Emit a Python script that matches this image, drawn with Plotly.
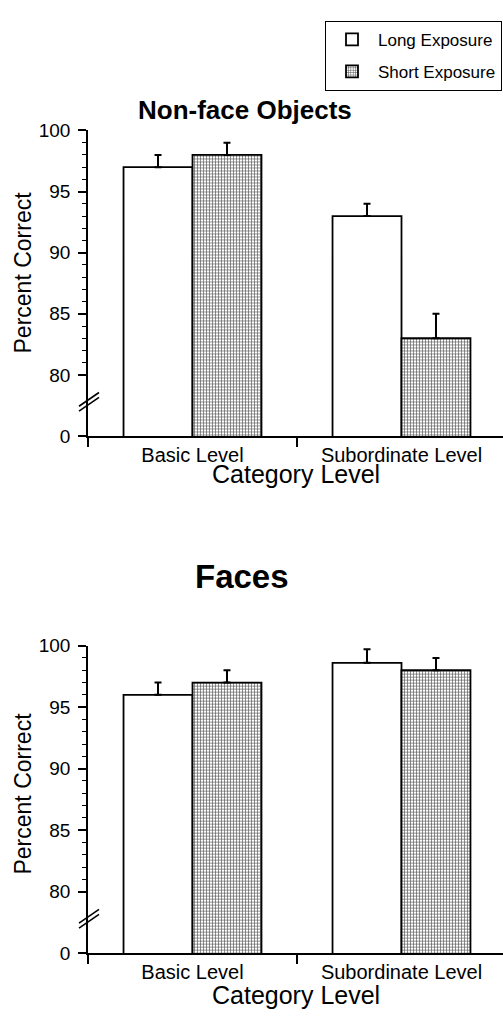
import plotly.graph_objects as go

# ---- data ----
categories = ["Basic Level", "Subordinate Level"]
series_names = ["Long Exposure", "Short Exposure"]

nonface_long = [97, 93]
nonface_long_err = [1, 1]
nonface_short = [98, 83]
nonface_short_err = [1, 2]

faces_long = [96, 98.6]
faces_long_err = [1, 1.1]
faces_short = [97, 98]
faces_short_err = [1, 1]

# broken axis: display position of "0" sits just below 80
y_tickvals = [75, 80, 85, 90, 95, 100]
y_ticktext = ["0", "80", "85", "90", "95", "100"]
y_minor = [v for v in range(80, 101) if v % 5 != 0]

W, H = 503, 1020
FONT = "Liberation Sans, Arial, sans-serif"

def px_y(p):  # figure pixel (from top) -> paper fraction
    return 1 - p / H

def px_x(p):
    return p / W

x_dom = [px_x(88), 1.0]
top_dom = [px_y(435), px_y(123)]
bot_dom = [px_y(963), px_y(649)]

pattern_short = dict(shape="+", size=3, solidity=0.4, fgcolor="#5a5a5a",
                     bgcolor="white", fillmode="replace")

fig = go.Figure()

def add_panel(long_v, long_e, short_v, short_e, xa, ya, show):
    fig.add_trace(go.Bar(
        x=categories, y=long_v, name=series_names[0], xaxis=xa, yaxis=ya,
        showlegend=show, legendgroup="long",
        marker=dict(color="white", line=dict(color="black", width=1.8)),
        error_y=dict(type="data", array=long_e, arrayminus=[0] * len(long_e),
                     symmetric=False, color="black", thickness=2, width=3.5),
    ))
    fig.add_trace(go.Bar(
        x=categories, y=short_v, name=series_names[1], xaxis=xa, yaxis=ya,
        showlegend=show, legendgroup="short",
        marker=dict(color="white", pattern=pattern_short,
                    line=dict(color="black", width=1.8)),
        error_y=dict(type="data", array=short_e, arrayminus=[0] * len(short_e),
                     symmetric=False, color="black", thickness=2, width=3.5),
    ))

add_panel(nonface_long, nonface_long_err, nonface_short, nonface_short_err, "x", "y", True)
add_panel(faces_long, faces_long_err, faces_short, faces_short_err, "x2", "y2", False)

xrange = [-0.5, -0.5 + (W - 88) / 209.0]

common_x = dict(
    domain=x_dom, range=xrange, type="category", showline=True, linecolor="black",
    linewidth=1.6, ticks="outside", tickson="boundaries", ticklen=9, tickwidth=1.6,
    tickcolor="black", tickfont=dict(family=FONT, size=20, color="black"),
    showgrid=False, zeroline=False, fixedrange=True,
)
common_y = dict(
    range=[75, 100], tickmode="array", tickvals=y_tickvals, ticktext=y_ticktext,
    showline=True, linecolor="black", linewidth=1.6, ticks="outside", ticklen=8,
    tickwidth=1.6, tickcolor="black", ticklabelstandoff=4,
    tickfont=dict(family=FONT, size=19, color="black"),
    minor=dict(tickmode="array", tickvals=y_minor, ticks="outside", ticklen=4,
               tickwidth=1.3, tickcolor="black", showgrid=False),
    showgrid=False, zeroline=False, fixedrange=True,
)

fig.update_layout(
    width=W, height=H,
    margin=dict(l=0, r=0, t=0, b=0),
    paper_bgcolor="white", plot_bgcolor="white",
    barmode="group", bargap=0.34, bargroupgap=0,
    font=dict(family=FONT, color="black"),
    xaxis=dict(common_x, anchor="y"),
    yaxis=dict(common_y, domain=top_dom, anchor="x"),
    xaxis2=dict(common_x, anchor="y2"),
    yaxis2=dict(common_y, domain=bot_dom, anchor="x2"),
    legend=dict(x=px_x(502), xanchor="right", y=px_y(11), yanchor="top",
                bordercolor="black", borderwidth=1, bgcolor="white",
                font=dict(family=FONT, size=17, color="black"),
                tracegroupgap=7, itemwidth=42),
    showlegend=True,
)

# titles and axis labels
ann = [
    dict(text="<b>Non-face Objects</b>", x=px_x(245), y=px_y(102), size=26),
    dict(text="<b>Faces</b>", x=px_x(242), y=px_y(578), size=33),
    dict(text="Category Level", x=px_x(296), y=px_y(474), size=25),
    dict(text="Category Level", x=px_x(296), y=px_y(1006), size=25),
]
for a in ann:
    fig.add_annotation(text=a["text"], x=a["x"], y=a["y"], xref="paper", yref="paper",
                       xanchor="center", yanchor="middle", showarrow=False,
                       font=dict(family=FONT, size=a["size"], color="black"))
for yc in (268, 800):
    fig.add_annotation(text="Percent Correct", x=px_x(23), y=px_y(yc), xref="paper",
                       yref="paper", xanchor="center", yanchor="middle", textangle=-90,
                       showarrow=False, font=dict(family=FONT, size=23, color="black"))

# axis-break slashes
plot_w = W - 88
for yr in ("y", "y2"):
    for off in (0.0, 0.4):
        fig.add_shape(type="line", xref="x domain" if yr == "y" else "x2 domain", yref=yr,
                      x0=-9 / plot_w, x1=11 / plot_w,
                      y0=78.0 - 0.56 - off, y1=78.0 + 0.56 - off,
                      line=dict(color="black", width=1.6))

fig.write_html(
    "out.html",
    config={"displayModeBar": False},
    post_script="document.body.style.margin='0';document.body.style.overflow='hidden';",
)
